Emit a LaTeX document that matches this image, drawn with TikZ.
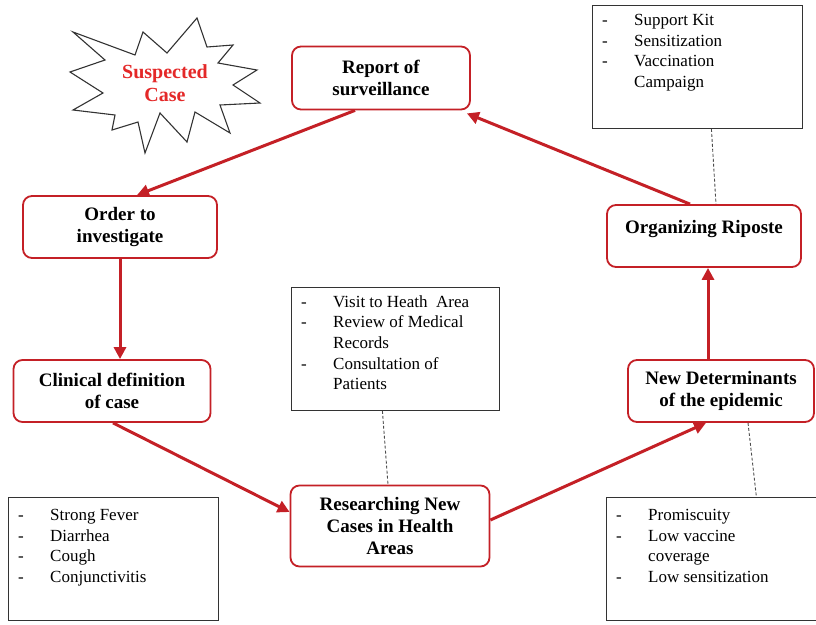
\documentclass[tikz,border=0pt]{standalone}
\usepackage{fontspec}
\setmainfont{Liberation Serif}
\usetikzlibrary{arrows.meta}
\definecolor{boxred}{RGB}{196,32,38}
\definecolor{starred}{RGB}{228,40,40}
\newcommand{\itm}[1]{\makebox[32pt][l]{-}#1\\}
\newcommand{\cnt}[1]{\hspace*{32pt}#1\\}

\begin{document}
\begin{tikzpicture}[x=1pt,y=-1pt,
    stage/.style={draw=boxred,line width=1.8pt,rounded corners=9pt,fill=white,align=center,
        font=\fontsize{19}{22}\selectfont\bfseries,inner sep=2pt},
    notebox/.style={draw=black!80,line width=0.8pt,anchor=north west,inner sep=0pt},
    notetext/.style={anchor=north west,align=left,inner sep=0pt,
        font=\fontsize{17}{20.7}\selectfont},
    flow/.style={draw=boxred,line width=3pt,-{Triangle[length=12pt,width=12pt]}},
    link/.style={draw=black!70,line width=0.9pt,dash pattern=on 3pt off 2pt}]
    \useasboundingbox (0,0) rectangle (816,624);

    % starburst
    \draw[black!80,line width=1.1pt,fill=white] (73,32) -- (135,55) -- (143,32) -- (167,53) -- (197,18) -- (207,47)
        -- (233,45) -- (218,63) -- (257,70) -- (233,85) -- (260,103) -- (220,105) -- (230,133)
        -- (195,112) -- (187,142) -- (160,113) -- (145,153) -- (138,122) -- (112,130) -- (115,115)
        -- (73,110) -- (103,93) -- (70,72) -- (105,60) -- cycle;
    \node[text=starred,align=center,font=\fontsize{20}{23}\selectfont\bfseries] (suspect) at (165,83) {Suspected\\Case};

    % stages
    \node[stage,minimum width=178pt,minimum height=63pt] (report) at (381,78) {Report of\\surveillance};
    \node[stage,minimum width=194pt,minimum height=62pt] (order) at (120,227) {Order to\\investigate};
    \node[stage,minimum width=197pt,minimum height=62pt] (clinical) at (112,391) {Clinical definition\\of case};
    \node[stage,minimum width=199pt,minimum height=81pt] (research) at (390,526) {Researching New\\Cases in Health\\Areas};
    \node[stage,minimum width=186pt,minimum height=62pt] (newdet) at (721,391) {New Determinants\\of the epidemic};
    \node[stage,minimum width=194pt,minimum height=62pt] (riposte) at (704,236) {Organizing Riposte\\[-4pt]\mbox{}};

    % notes
    \node[notebox,minimum width=210pt,minimum height=123pt] (kitbox) at (592,5) {};
    \node[notetext] (kittext) at ([shift={(10pt,-9pt)}]kitbox.north west)
        {\itm{Support Kit}\itm{Sensitization}\itm{Vaccination}\cnt{Campaign}};
    \node[notebox,minimum width=208pt,minimum height=123pt] (visitbox) at (291,287) {};
    \node[notetext] (visittext) at ([shift={(10pt,-8pt)}]visitbox.north west)
        {\itm{Visit to Heath\ \ Area}\itm{Review of Medical}\cnt{Records}\itm{Consultation of}\cnt{Patients}};
    \node[notebox,minimum width=210pt,minimum height=123pt] (symptbox) at (8,497) {};
    \node[notetext] (sympttext) at ([shift={(10pt,-12pt)}]symptbox.north west)
        {\itm{Strong Fever}\itm{Diarrhea}\itm{Cough}\itm{Conjunctivitis}};
    \node[notebox,minimum width=212pt,minimum height=123pt] (riskbox) at (606,497) {};
    \node[notetext] (risktext) at ([shift={(10pt,-12pt)}]riskbox.north west)
        {\itm{Promiscuity}\itm{Low vaccine}\cnt{coverage}\itm{Low sensitization}};

    % dashed links
    \draw[link] ([xshift=14pt]kitbox.south) -- ([xshift=12pt]riposte.north);
    \draw[link] ([xshift=-13pt]visitbox.south) -- ([xshift=-2pt]research.north);
    \draw[link] ([xshift=27pt]newdet.south) -- ([xshift=44pt]riskbox.north);

    % cycle
    \draw[flow] ([xshift=-26pt]report.south) -- ([xshift=17pt]order.north);
    \draw[flow] (order.south) -- (clinical.north -| order.south);
    \draw[flow] ([xshift=1pt]clinical.south) -- ([yshift=14pt]research.west);
    \draw[flow] ([yshift=6pt]research.east) -- ([xshift=-15pt]newdet.south);
    \draw[flow] ([xshift=-13pt]newdet.north) -- ([xshift=4pt]riposte.south);
    \draw[flow] ([xshift=-14pt]riposte.north) -- ([shift={(-4pt,-3pt)}]report.south east);
\end{tikzpicture}
\end{document}
